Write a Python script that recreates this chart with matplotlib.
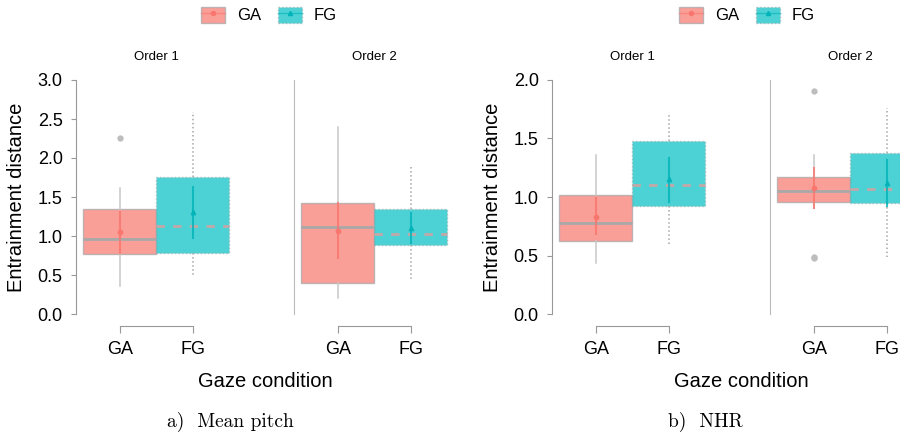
import matplotlib
matplotlib.use("Agg")
import matplotlib.pyplot as plt
import matplotlib.transforms as mtransforms
from matplotlib.patches import Patch
from matplotlib.lines import Line2D
from matplotlib.legend_handler import HandlerTuple

plt.rcParams["font.family"] = ["Liberation Sans", "DejaVu Sans"]

orders = ["Order 1", "Order 2"]
conditions = ["GA", "FG"]

# per metric: [order][condition] -> (q1, median, q3, whisker low, whisker high)
pitch_box = [
    [(0.77, 0.96, 1.35, 0.36, 1.61), (0.78, 1.13, 1.76, 0.47, 2.59)],
    [(0.40, 1.12, 1.42, 0.21, 2.40), (0.88, 1.03, 1.35, 0.44, 1.90)],
]
pitch_fliers = [[[2.26], []], [[], []]]
pitch_mean = [[1.05, 1.31], [1.06, 1.10]]
pitch_ci = [[(0.78, 1.31), (0.97, 1.63)], [(0.72, 1.42), (0.91, 1.29)]]

nhr_box = [
    [(0.62, 0.78, 1.02, 0.44, 1.36), (0.92, 1.10, 1.48, 0.58, 1.72)],
    [(0.96, 1.05, 1.17, 0.91, 1.36), (0.95, 1.07, 1.38, 0.49, 1.76)],
]
nhr_fliers = [[[], []], [[1.91, 0.49, 0.48], []]]
nhr_mean = [[0.83, 1.15], [1.08, 1.12]]
nhr_ci = [[(0.68, 0.99), (0.96, 1.33)], [(0.91, 1.25), (0.92, 1.32)]]

fill = {"GA": "#F8766D", "FG": "#00BFC4"}
point = {"GA": "#F8766D", "FG": "#00B3B8"}
marker = {"GA": "o", "FG": "^"}
edge_ls = {"GA": "-", "FG": ":"}
grey = "#a6a6a6"

W, H = 900, 436
fig = plt.figure(figsize=(9, 4.36), dpi=100)


def px_axes(x0, y_top, w, h):
    return fig.add_axes([x0 / W, 1 - (y_top + h) / H, w / W, h / H])


def draw_chart(x_left, box, fliers, means, cis, ymax, yticks, caption, cap_x, leg_x):
    unit = 73.0
    pw = 2.2 * unit
    gap = 218.0
    for oi, order in enumerate(orders):
        ax = px_axes(x_left + oi * gap, 80, pw, 234)
        for ci_, cond in enumerate(conditions):
            q1, med, q3, lo, hi = box[oi][ci_]
            st = dict(q1=q1, med=med, q3=q3, whislo=lo, whishi=hi,
                      fliers=fliers[oi][ci_])
            ls = edge_ls[cond]
            ax.bxp([st], positions=[ci_], widths=1.0, patch_artist=True,
                   showcaps=False,
                   boxprops=dict(facecolor=fill[cond], alpha=0.7,
                                 edgecolor=grey, linestyle=ls, linewidth=1),
                   whiskerprops=dict(color="#c8c8c8" if cond == "GA" else grey,
                                     linestyle=ls, linewidth=1.1),
                   medianprops=dict(color="#a8a8a8" if cond == "GA" else "#c4a8a8",
                                    linestyle="-" if cond == "GA" else (0, (3, 3)),
                                    linewidth=2),
                   flierprops=dict(marker="o", markerfacecolor="#bdbdbd",
                                   markeredgecolor="#bdbdbd", markersize=3.5))
            lo_ci, hi_ci = cis[oi][ci_]
            ax.plot([ci_, ci_], [lo_ci, hi_ci], color=point[cond], alpha=0.8,
                    linewidth=1.5, zorder=5)
            ax.plot([ci_], [means[oi][ci_]], marker=marker[cond], color=point[cond],
                    markersize=3.2, alpha=0.9, zorder=6, linestyle="none")
        ax.set_xlim(-0.6, 1.6)
        ax.set_ylim(0, ymax)
        ax.spines["top"].set_visible(False)
        ax.spines["right"].set_visible(False)
        ax.spines["bottom"].set_position(("outward", 8.6))
        ax.spines["bottom"].set_bounds(0, 1)
        ax.spines["bottom"].set_color("#999999")
        ax.set_xticks([0, 1])
        ax.set_xticklabels(conditions)
        ax.tick_params(axis="x", length=5, color="#999999", labelsize=13, pad=5.5)
        if oi == 0:
            ax.spines["left"].set_color("#999999")
            ax.set_yticks(yticks)
            ax.set_yticklabels([f"{t:.1f}" for t in yticks])
            ax.tick_params(axis="y", length=3.6, color="#999999", labelsize=13, pad=6)
        else:
            ax.spines["left"].set_color("#bbbbbb")
            ax.set_yticks([])
        trans = mtransforms.blended_transform_factory(ax.transData, ax.transAxes)
        ax.text(0.5, 1.098, order, transform=trans, ha="center", va="center",
                fontsize=9.5)

    fig.text((x_left - 59) / W, 1 - 197 / H, "Entrainment distance", rotation=90,
             ha="center", va="center", fontsize=14.5)
    fig.text((x_left + 189) / W, 1 - 381 / H, "Gaze condition", ha="center",
             va="center", fontsize=14.5)
    fig.text(cap_x / W, 1 - 422 / H, caption, ha="center", va="center",
             fontsize=14, family="cmr10")

    handles = []
    for cond in conditions:
        handles.append((Patch(facecolor=fill[cond], alpha=0.7, edgecolor=grey,
                              linestyle=edge_ls[cond]),
                        Line2D([], [], color=point[cond], linewidth=1, alpha=0.6),
                        Line2D([], [], marker=marker[cond], color=point[cond],
                               markersize=3, linestyle="none")))
    fig.legend(handles, conditions, loc="center",
               bbox_to_anchor=(leg_x / W, 1 - 15 / H), ncol=2, frameon=False,
               fontsize=12, handlelength=1.45, handleheight=1.1,
               handletextpad=0.7, columnspacing=1.0,
               handler_map={tuple: HandlerTuple(ndivide=1)})


draw_chart(76, pitch_box, pitch_fliers, pitch_mean, pitch_ci, 3.0,
           [0.0, 0.5, 1.0, 1.5, 2.0, 2.5, 3.0], "a)  Mean pitch", 230, 269)
draw_chart(552, nhr_box, nhr_fliers, nhr_mean, nhr_ci, 2.0,
           [0.0, 0.5, 1.0, 1.5, 2.0], "b)  NHR", 705, 747)

fig.savefig("out.png", dpi=100)
